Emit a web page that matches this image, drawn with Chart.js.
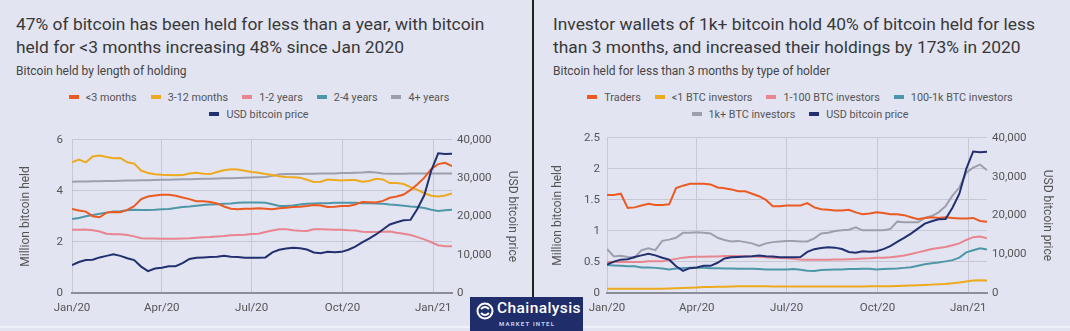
<!DOCTYPE html>
<html>
<head>
<meta charset="utf-8">
<script src="https://cdn.jsdelivr.net/npm/chart.js@4.4.1/dist/chart.umd.min.js"></script>
<style>
    body {
        margin: 0;
        width: 1070px;
        height: 331px;
        background: #e2e4f2;
        font-family: Roboto, sans-serif;
        overflow: hidden;
        position: relative;
    }
    .panel { position: absolute; top: 0; height: 331px; }
    .title {
        position: absolute; left: 16px; top: 13px; margin: 0;
        font-size: 17.4px; line-height: 23px; font-weight: 400; color: #383838; white-space: nowrap;
    }
    .sub { position: absolute; left: 16px; top: 64px; font-size: 12px; color: #444; white-space: nowrap; }
    .legend { position: absolute; top: 89px; left: 0; text-align: center; font-size: 10.8px; color: #555; }
    .legend div { height: 17px; line-height: 17px; white-space: nowrap; }
    .legend span { display: inline-block; margin: 0 7px; }
    .legend i { display: inline-block; width: 10px; height: 4px; margin-right: 7px; vertical-align: middle; position: relative; top: -1px; }
    canvas { position: absolute; top: 124px; }
    .divider { position: absolute; left: 532px; top: 0; width: 2px; height: 298px; background: #222; }
    .strip { position: absolute; left: 0; top: 326px; width: 1070px; height: 2px; background: #eef0f8; }
    .logo {
        position: absolute; left: 470px; top: 297px; width: 113px; height: 34px; background: #1f2d6a; color: #fff;
    }
    .logo svg { position: absolute; left: 6px; top: 5px; }
    .logo .name { position: absolute; left: 27px; top: 2px; font-size: 15.5px; font-weight: 500; letter-spacing: 0.4px; }
    .logo .tag { position: absolute; left: 29px; top: 23px; font-size: 6px; font-weight: 700; letter-spacing: 1.2px; color: #c9cde6; }
</style>
</head>
<body>
<div class="panel" style="left:0;width:532px">
    <h2 class="title">47% of bitcoin has been held for less than a year, with bitcoin<br>held for &lt;3 months increasing 48% since Jan 2020</h2>
    <div class="sub">Bitcoin held by length of holding</div>
    <div class="legend" id="legendLeft" style="width:518px"></div>
</div>
<div class="panel" style="left:540px;width:530px">
    <h2 class="title" style="left:13px">Investor wallets of 1k+ bitcoin hold 40% of bitcoin held for less<br>than 3 months, and increased their holdings by 173% in 2020</h2>
    <div class="sub" style="left:13px">Bitcoin held for less than 3 months by type of holder</div>
    <div class="legend" id="legendRight" style="width:520px"></div>
</div>
<canvas id="chartLeft" width="532" height="193" style="left:0"></canvas>
<canvas id="chartRight" width="530" height="193" style="left:540px"></canvas>
<div class="divider"></div>
<div class="strip"></div>
<div class="logo">
    <svg width="18" height="18" viewBox="0 0 18 18">
        <circle cx="9" cy="9" r="7.5" fill="none" stroke="#fff" stroke-width="2"/>
        <path d="M5 7 Q9 3 13 7 M5 11 Q9 15 13 11" fill="none" stroke="#fff" stroke-width="2"/>
    </svg>
    <div class="name">Chainalysis</div>
    <div class="tag">MARKET INTEL</div>
</div>

<script>
// 주간 데이터 (2020-01-01 기준 일수)
const weekDays = [0, 7, 14, 21, 28, 35, 42, 49, 56, 63, 70, 77, 84, 91, 98, 105, 112, 119, 126, 133,
    140, 147, 154, 161, 168, 175, 182, 189, 196, 203, 210, 217, 224, 231, 238, 245, 252, 259, 266, 273,
    280, 287, 294, 301, 308, 315, 322, 329, 336, 343, 350, 357, 364, 371, 378, 385];
const tickDays = [0, 91, 182, 274, 366];
const tickLabels = ['Jan/20', 'Apr/20', 'Jul/20', 'Oct/20', 'Jan/21'];

const btcPrice = [7300, 8100, 8600, 8700, 9300, 9700, 10100, 9700, 9100, 8600, 6900, 5700, 6400, 6600, 7000, 7000,
    7800, 8900, 9200, 9300, 9400, 9500, 9700, 9500, 9400, 9200, 9200, 9200, 9300, 10600, 11300, 11600, 11800,
    11700, 11350, 10600, 10400, 10750, 10650, 10750, 11300, 12100, 13200, 14200, 15300, 16600, 17900, 18500,
    19000, 19100, 22000, 25600, 32000, 36500, 36300, 36400];

// 왼쪽 차트: 보유 기간별
const heldLabels = ['<3 months', '3-12 months', '1-2 years', '2-4 years', '4+ years'];
const heldUnder3m = [3.29, 3.23, 3.19, 3.01, 2.97, 3.15, 3.17, 3.16, 3.26, 3.40, 3.68, 3.78, 3.82, 3.85, 3.85, 3.81,
    3.74, 3.68, 3.60, 3.60, 3.57, 3.51, 3.39, 3.30, 3.28, 3.30, 3.30, 3.32, 3.30, 3.28, 3.32, 3.34, 3.37, 3.38,
    3.41, 3.45, 3.43, 3.37, 3.38, 3.41, 3.41, 3.47, 3.57, 3.56, 3.55, 3.61, 3.73, 3.78, 3.86, 4.04, 4.26, 4.52,
    4.86, 5.05, 5.10, 4.97];
const held3to12m = [5.12, 5.23, 5.12, 5.35, 5.39, 5.33, 5.28, 5.29, 5.12, 5.07, 4.80, 4.70, 4.65, 4.63, 4.62, 4.61,
    4.62, 4.68, 4.71, 4.67, 4.66, 4.74, 4.81, 4.85, 4.84, 4.79, 4.74, 4.71, 4.66, 4.62, 4.58, 4.55, 4.54, 4.52,
    4.44, 4.35, 4.36, 4.45, 4.43, 4.41, 4.43, 4.43, 4.36, 4.39, 4.48, 4.45, 4.31, 4.31, 4.27, 4.15, 4.04, 3.91,
    3.81, 3.78, 3.82, 3.90];
const held1to2y = [2.48, 2.48, 2.49, 2.46, 2.41, 2.32, 2.30, 2.30, 2.27, 2.22, 2.15, 2.14, 2.14, 2.13, 2.13, 2.13,
    2.14, 2.15, 2.17, 2.18, 2.19, 2.21, 2.23, 2.26, 2.27, 2.28, 2.31, 2.32, 2.39, 2.45, 2.50, 2.50, 2.46, 2.44,
    2.43, 2.50, 2.50, 2.49, 2.48, 2.48, 2.46, 2.45, 2.40, 2.39, 2.39, 2.40, 2.41, 2.36, 2.32, 2.27, 2.19, 2.10,
    1.99, 1.87, 1.83, 1.83];
const held2to4y = [2.90, 2.94, 3.01, 3.06, 3.11, 3.15, 3.19, 3.20, 3.24, 3.26, 3.25, 3.25, 3.26, 3.28, 3.29, 3.33,
    3.37, 3.39, 3.42, 3.45, 3.47, 3.48, 3.50, 3.51, 3.54, 3.55, 3.55, 3.55, 3.54, 3.48, 3.41, 3.41, 3.43, 3.47,
    3.50, 3.51, 3.52, 3.52, 3.54, 3.54, 3.54, 3.54, 3.52, 3.52, 3.51, 3.50, 3.47, 3.45, 3.42, 3.39, 3.37, 3.33,
    3.26, 3.21, 3.24, 3.26];
const held4yPlus = [4.36, 4.37, 4.37, 4.38, 4.38, 4.39, 4.39, 4.40, 4.41, 4.41, 4.42, 4.42, 4.43, 4.44, 4.44, 4.45,
    4.46, 4.46, 4.47, 4.48, 4.48, 4.49, 4.50, 4.50, 4.51, 4.52, 4.53, 4.54, 4.55, 4.59, 4.65, 4.66, 4.66, 4.66,
    4.67, 4.67, 4.68, 4.68, 4.68, 4.70, 4.70, 4.71, 4.72, 4.74, 4.72, 4.68, 4.67, 4.67, 4.67, 4.68, 4.68, 4.68,
    4.68, 4.68, 4.68, 4.68];

// 오른쪽 차트: 3개월 미만 보유자 유형별
const holderLabels = ['Traders', '<1 BTC investors', '1-100 BTC investors', '100-1k BTC investors', '1k+ BTC investors'];
const traders = [1.58, 1.58, 1.60, 1.37, 1.38, 1.41, 1.44, 1.42, 1.42, 1.43, 1.69, 1.73, 1.76, 1.76, 1.76, 1.75,
    1.70, 1.69, 1.67, 1.64, 1.64, 1.60, 1.56, 1.50, 1.40, 1.40, 1.41, 1.41, 1.41, 1.45, 1.38, 1.35, 1.34, 1.33,
    1.33, 1.34, 1.30, 1.27, 1.28, 1.30, 1.29, 1.27, 1.27, 1.255, 1.22, 1.19, 1.21, 1.22, 1.21, 1.22, 1.21, 1.20,
    1.20, 1.21, 1.16, 1.15];
const under1Btc = [0.07, 0.07, 0.07, 0.07, 0.07, 0.07, 0.07, 0.07, 0.07, 0.072, 0.075, 0.08, 0.085, 0.09, 0.095,
    0.098, 0.10, 0.102, 0.105, 0.107, 0.108, 0.108, 0.108, 0.107, 0.106, 0.105, 0.105, 0.104, 0.104, 0.104,
    0.104, 0.104, 0.104, 0.104, 0.104, 0.104, 0.104, 0.106, 0.107, 0.108, 0.108, 0.108, 0.112, 0.116, 0.12,
    0.125, 0.13, 0.135, 0.14, 0.145, 0.157, 0.168, 0.184, 0.2, 0.205, 0.2];
const btc1to100 = [0.50, 0.50, 0.50, 0.50, 0.50, 0.50, 0.51, 0.51, 0.51, 0.53, 0.55, 0.57, 0.58, 0.585, 0.585, 0.59,
    0.59, 0.595, 0.595, 0.595, 0.59, 0.59, 0.585, 0.575, 0.57, 0.565, 0.56, 0.55, 0.54, 0.535, 0.535, 0.535,
    0.535, 0.54, 0.54, 0.545, 0.55, 0.555, 0.56, 0.57, 0.57, 0.575, 0.59, 0.605, 0.63, 0.655, 0.68, 0.71, 0.725,
    0.74, 0.77, 0.80, 0.855, 0.90, 0.91, 0.88];
const btc100to1k = [0.45, 0.445, 0.44, 0.43, 0.43, 0.41, 0.41, 0.405, 0.395, 0.38, 0.395, 0.40, 0.405, 0.405, 0.405,
    0.40, 0.40, 0.395, 0.395, 0.39, 0.39, 0.39, 0.385, 0.38, 0.38, 0.38, 0.38, 0.385, 0.375, 0.36, 0.355, 0.37,
    0.375, 0.38, 0.38, 0.385, 0.385, 0.39, 0.39, 0.38, 0.385, 0.39, 0.395, 0.405, 0.415, 0.44, 0.465, 0.48, 0.49,
    0.51, 0.53, 0.57, 0.655, 0.69, 0.72, 0.70];
const btc1kPlus = [0.71, 0.59, 0.60, 0.58, 0.57, 0.69, 0.72, 0.69, 0.84, 0.86, 0.89, 0.97, 0.97, 0.98, 0.97, 0.96,
    0.89, 0.855, 0.83, 0.84, 0.82, 0.80, 0.76, 0.80, 0.82, 0.83, 0.84, 0.84, 0.83, 0.83, 0.88, 0.96, 0.97, 1.00,
    1.01, 1.02, 1.06, 1.01, 1.01, 1.01, 1.01, 1.03, 1.15, 1.14, 1.14, 1.14, 1.21, 1.24, 1.30, 1.40, 1.57, 1.70,
    1.94, 2.02, 2.07, 1.98];

const seriesColors = ['#ec5a22', '#eeaa1e', '#e8858f', '#4f97a8', '#9ca0ad'];
const priceColor = '#22306f';
const priceLabel = 'USD bitcoin price';

const gridColor = '#c6c8d4';
const tickColor = '#555';
const fontFamily = 'Roboto, sans-serif';

function toPoints(values) {
    return values.map((v, i) => ({ x: weekDays[i], y: v }));
}

function buildLegend(elId, labels, rows) {
    const el = document.getElementById(elId);
    const allLabels = [...labels, priceLabel];
    const allColors = [...seriesColors, priceColor];
    rows.forEach((row) => {
        const rowDiv = document.createElement('div');
        row.forEach((idx) => {
            const item = document.createElement('span');
            const mark = document.createElement('i');
            mark.style.background = allColors[idx];
            item.appendChild(mark);
            item.appendChild(document.createTextNode(allLabels[idx]));
            rowDiv.appendChild(item);
        });
        el.appendChild(rowDiv);
    });
}

function makeChart(canvasId, labels, seriesList, cfg) {
    const datasets = seriesList.map((values, i) => ({
        label: labels[i],
        data: toPoints(values),
        borderColor: seriesColors[i],
        borderWidth: 2,
        pointRadius: 0,
        tension: 0,
        yAxisID: 'y',
        order: 1,
    }));
    datasets.push({
        label: priceLabel,
        data: toPoints(btcPrice),
        borderColor: priceColor,
        borderWidth: 2,
        pointRadius: 0,
        tension: 0,
        yAxisID: 'y1',
        order: 0,
    });

    return new Chart(document.getElementById(canvasId), {
        type: 'line',
        data: { datasets },
        options: {
            responsive: false,
            animation: false,
            layout: { padding: 0 },
            plugins: { legend: { display: false }, tooltip: { enabled: false }, title: { display: false } },
            scales: {
                x: {
                    type: 'linear',
                    min: 0,
                    max: 385,
                    afterBuildTicks: (axis) => { axis.ticks = tickDays.map((v) => ({ value: v })); },
                    afterFit: (axis) => { axis.height = 24; },
                    ticks: {
                        autoSkip: false,
                        maxRotation: 0,
                        padding: 8,
                        color: tickColor,
                        font: { family: fontFamily, size: 11.5 },
                        callback: (v) => tickLabels[tickDays.indexOf(v)],
                    },
                    grid: { color: gridColor, lineWidth: 1, drawTicks: false },
                    border: { display: true, color: '#8b8d99', width: 2 },
                },
                y: {
                    position: 'left',
                    min: 0,
                    max: cfg.leftMax,
                    afterFit: (axis) => { axis.width = cfg.leftWidth; },
                    ticks: {
                        stepSize: cfg.leftStep,
                        padding: cfg.leftTickPad,
                        color: tickColor,
                        font: { family: fontFamily, size: 11.5 },
                        callback: (v) => String(v),
                    },
                    grid: { color: gridColor, lineWidth: 1, drawTicks: false },
                    border: { display: false },
                    title: {
                        display: true,
                        text: 'Million bitcoin held',
                        color: tickColor,
                        font: { family: fontFamily, size: 12 },
                        padding: { top: cfg.leftTitlePad, bottom: 0 },
                    },
                },
                y1: {
                    position: 'right',
                    min: 0,
                    max: 40000,
                    afterFit: (axis) => { axis.width = cfg.rightWidth; },
                    ticks: {
                        stepSize: 10000,
                        padding: 5,
                        color: tickColor,
                        font: { family: fontFamily, size: 11.5 },
                        callback: (v) => v.toLocaleString('en-US'),
                    },
                    grid: { display: false, drawTicks: false },
                    border: { display: false },
                    title: {
                        display: true,
                        text: 'USD bitcoin price',
                        color: tickColor,
                        font: { family: fontFamily, size: 12 },
                        padding: { top: cfg.rightTitlePad, bottom: 0 },
                    },
                },
            },
        },
    });
}

buildLegend('legendLeft', heldLabels, [[0, 1, 2, 3, 4], [5]]);
buildLegend('legendRight', holderLabels, [[0, 1, 2, 3], [4, 5]]);

makeChart('chartLeft', heldLabels, [heldUnder3m, held3to12m, held1to2y, held2to4y, held4yPlus], {
    leftMax: 6, leftStep: 2, leftWidth: 72, rightWidth: 80, leftTickPad: 9, leftTitlePad: 19, rightTitlePad: 13,
});
makeChart('chartRight', holderLabels, [traders, under1Btc, btc1to100, btc100to1k, btc1kPlus], {
    leftMax: 2.5, leftStep: 0.5, leftWidth: 67, rightWidth: 83, leftTickPad: 7, leftTitlePad: 11, rightTitlePad: 16,
});
</script>
</body>
</html>
